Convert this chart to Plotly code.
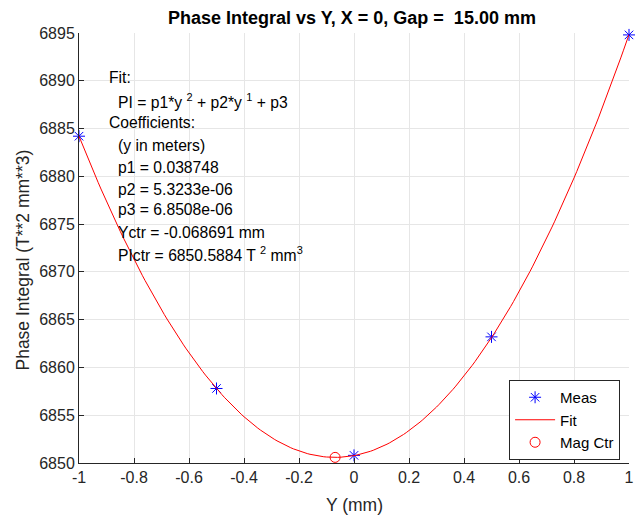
import numpy as np
import plotly.graph_objects as go

# Measured data
meas_y = [-1.0, -0.5, 0.0, 0.5, 1.0]
meas_pi = [6884.2, 6857.8, 6850.8, 6863.2, 6894.8]

# Fit coefficients (mm units) from the chart text
fit_p1 = 38.748
fit_p2 = 5.3233
fit_p3 = 6850.7712

# Magnet centre
ctr_y = [-0.068691]
ctr_pi = [6850.5884]

fit_x = np.linspace(-1, 1, 201)
fit_v = np.polyval([fit_p1, fit_p2, fit_p3], fit_x)

FONT = "Liberation Sans, Arial, sans-serif"
W, H = 640, 529
L, R, T, B = 79, 6, 33, 66
pw, ph = W - L - R, H - T - B

fig = go.Figure()
fig.add_trace(go.Scatter(x=meas_y, y=meas_pi, mode="markers", name="Meas",
                         marker=dict(symbol="asterisk-open", size=10, color="blue",
                                     line=dict(color="blue", width=1)),
                         cliponaxis=False))
fig.add_trace(go.Scatter(x=fit_x, y=fit_v, mode="lines", name="Fit",
                         line=dict(color="red", width=1)))
fig.add_trace(go.Scatter(x=ctr_y, y=ctr_pi, mode="markers", name="Mag Ctr",
                         marker=dict(symbol="circle-open", size=10, color="red",
                                     line=dict(color="red", width=1)),
                         cliponaxis=False))

def px(xp):
    return (xp - L) / pw

def py(yp):
    return 1 - (yp - T) / ph

lines = [
    (107, 78, "Fit:"),
    (116, 101, "PI = p1*y <sup>2</sup> + p2*y <sup>1</sup> + p3"),
    (107, 122, "Coefficients:"),
    (116, 145, "(y in meters)"),
    (116, 167, "p1 = 0.038748"),
    (116, 189, "p2 = 5.3233e-06"),
    (116, 210, "p3 = 6.8508e-06"),
    (116, 232, "Yctr = -0.068691 mm"),
    (116, 254, "PIctr = 6850.5884 T <sup>2</sup> mm<sup>3</sup>"),
]
ann = []
for xp, yp, t in lines:
    ann.append(dict(x=px(xp), y=py(yp), xref="paper", yref="paper", text=t,
                    showarrow=False, xanchor="left", yanchor="middle",
                    font=dict(family=FONT, size=15.7, color="black")))

# axis titles as annotations for exact placement
ann.append(dict(x=px(357), y=py(505), xref="paper", yref="paper", text="Y (mm)",
                showarrow=False, xanchor="center", yanchor="middle",
                font=dict(family=FONT, size=17.5, color="#262626")))
ann.append(dict(x=px(22), y=py(260), xref="paper", yref="paper",
                text="Phase Integral (T**2 mm**3)", textangle=-90,
                showarrow=False, xanchor="center", yanchor="middle",
                font=dict(family=FONT, size=17.5, color="#262626")))

axis_common = dict(showline=True, linecolor="#262626", linewidth=1,
                   ticks="inside", ticklen=5, tickcolor="#262626",
                   showgrid=True, gridcolor="#e6e6e6", gridwidth=1,
                   zeroline=False, mirror=False,
                   tickfont=dict(family=FONT, size=16, color="#262626"))

fig.update_layout(
    width=W, height=H,
    margin=dict(l=L, r=R, t=T, b=B),
    paper_bgcolor="white", plot_bgcolor="white",
    title=dict(text="<b>Phase Integral vs Y, X = 0, Gap =  15.00 mm</b>",
               xref="container", x=352 / W, xanchor="center",
               yref="container", y=1 - 18 / H, yanchor="middle",
               font=dict(family=FONT, size=18, color="black")),
    xaxis=dict(range=[-1, 1], tickvals=[-1, -0.8, -0.6, -0.4, -0.2, 0, 0.2, 0.4, 0.6, 0.8, 1],
               ticktext=["-1", "-0.8", "-0.6", "-0.4", "-0.2", "0", "0.2", "0.4", "0.6", "0.8", "1"],
               **axis_common),
    yaxis=dict(range=[6850, 6895], dtick=5, **axis_common),
    legend=dict(x=px(625), y=py(460), xanchor="right", yanchor="bottom",
                bgcolor="white", bordercolor="#262626", borderwidth=1,
                font=dict(family=FONT, size=15, color="black"),
                itemwidth=40, tracegroupgap=0),
    annotations=ann,
    showlegend=True,
)

fig.write_html("out.html")
